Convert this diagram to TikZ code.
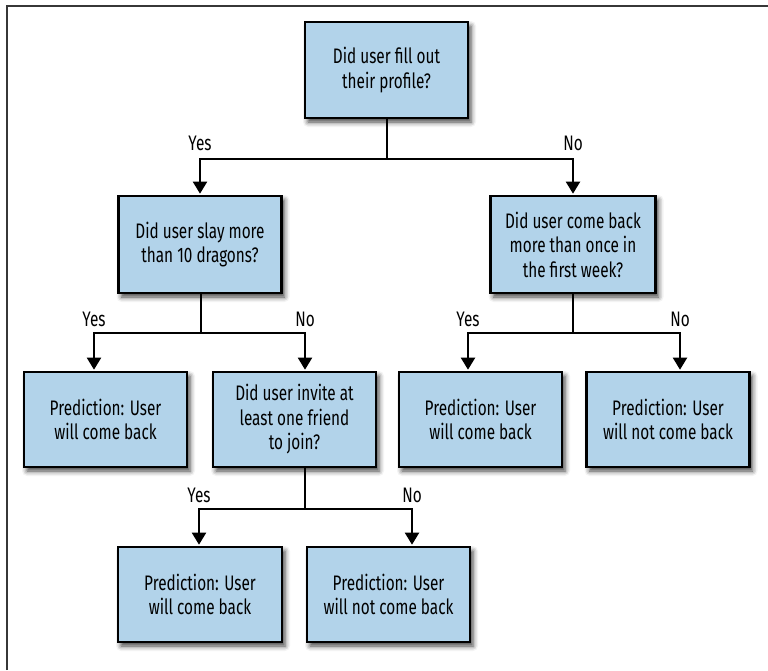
\documentclass[tikz,border=0pt]{standalone}
\usepackage{fontspec}
\setmainfont[FakeStretch=0.73]{Fira Sans}
\usetikzlibrary{arrows.meta,shadows.blur}
\definecolor{boxblue}{RGB}{178,211,234}
\definecolor{framegray}{RGB}{55,55,55}
\tikzset{
  qbox/.style={draw=black, line width=2.6pt, fill=boxblue, minimum width=163pt,
    minimum height=96pt, align=center, inner sep=2pt,
    font=\fontsize{21}{24.5}\selectfont,
    blur shadow={shadow xshift=3pt, shadow yshift=-4pt, shadow blur radius=5pt, shadow opacity=75}},
  conn/.style={line width=2pt, -{Triangle[width=14pt,length=12pt]}},
  stem/.style={line width=2pt},
  lbl/.style={font=\fontsize{21}{22}\selectfont, inner sep=0pt}
}
\begin{document}
\begin{tikzpicture}[x=1pt,y=-1pt]
\useasboundingbox (0,0) rectangle (768,670);
\draw[framegray, line width=1.3pt] (7,670) -- (7,6) -- (768,6);

\node[qbox] (root) at (386.5,70) {Did user fill out\\their profile?};
\node[qbox, minimum height=97pt] (l1) at (200,244.5) {Did user slay more\\than 10 dragons?};
\node[qbox, minimum height=97pt, minimum width=165pt] (r1) at (573,244.5) {Did user come back\\more than once in\\the first week?};
\node[qbox, minimum height=95pt] (ll) at (105.5,419.5) {Prediction: User\\will come back};
\node[qbox, minimum height=95pt] (lr) at (294.5,419.5) {Did user invite at\\least one friend\\to join?};
\node[qbox, minimum height=95pt] (rl) at (480.5,419.5) {Prediction: User\\will come back};
\node[qbox, minimum height=95pt] (rr) at (668,419.5) {Prediction: User\\will not come back};
\node[qbox, minimum height=95pt, minimum width=164pt] (bl) at (200,594.5) {Prediction: User\\will come back};
\node[qbox, minimum height=95pt] (br) at (388.5,594.5) {Prediction: User\\will not come back};

% level 1
\coordinate (b1) at (387,159);
\draw[stem] (root.south -| b1) -- (b1);
\draw[conn] (b1) -| ([xshift=0pt,yshift=1pt]l1.north);
\draw[conn] (b1) -| ([xshift=0pt,yshift=1pt]r1.north);
\node[lbl] (y1) at (200,143) {Yes};
\node[lbl] (n1) at (573,143) {No};

% level 2 left
\coordinate (b2) at (201,333);
\draw[stem] (l1.south -| b2) -- (b2);
\draw[conn] (b2) -| ([xshift=-11.5pt,yshift=1pt]ll.north);
\draw[conn] (b2) -| ([xshift=10.5pt,yshift=1pt]lr.north);
\node[lbl] (y2) at (94,319) {Yes};
\node[lbl] (n2) at (305,319) {No};

% level 2 right
\coordinate (b3) at (573,333);
\draw[stem] (r1.south -| b3) -- (b3);
\draw[conn] (b3) -| ([xshift=-12.5pt,yshift=1pt]rl.north);
\draw[conn] (b3) -| ([xshift=12pt,yshift=1pt]rr.north);
\node[lbl] (y3) at (468,319) {Yes};
\node[lbl] (n3) at (680,319) {No};

% level 3
\coordinate (b4) at (305,509);
\draw[stem] (lr.south -| b4) -- (b4);
\draw[conn] (b4) -| ([xshift=-1pt,yshift=1pt]bl.north);
\draw[conn] (b4) -| ([xshift=23.5pt,yshift=1pt]br.north);
\node[lbl] (y4) at (199,495) {Yes};
\node[lbl] (n4) at (412,495) {No};
\end{tikzpicture}
\end{document}
